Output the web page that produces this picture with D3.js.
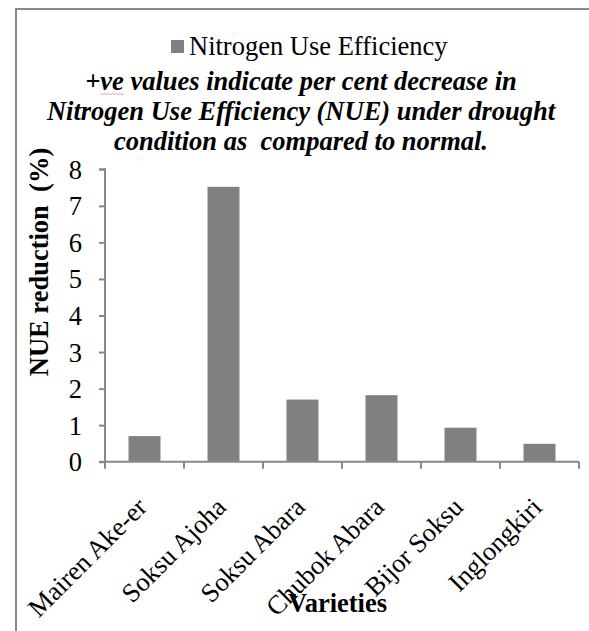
<!DOCTYPE html>
<html>
<head>
<meta charset="utf-8">
<script src="https://cdn.jsdelivr.net/npm/d3@7"></script>
<style>
  html, body { margin: 0; padding: 0; background: #fff; }
  svg { display: block; }
</style>
</head>
<body>
<svg id="chart" width="589" height="631"></svg>
<script>
// ---- data ----
const categories = ["Mairen Ake-er", "Soksu Ajoha", "Soksu Abara", "Chubok Abara", "Bijor Soksu", "Inglongkiri"];
const nueReduction = [0.70, 7.52, 1.70, 1.82, 0.93, 0.49];
const yTicks = [0, 1, 2, 3, 4, 5, 6, 7, 8];
const seriesName = "Nitrogen Use Efficiency";
const titleLines = [
  "+ve values indicate per cent decrease in",
  "Nitrogen Use Efficiency (NUE) under drought",
  "condition as  compared to normal."
];
const yAxisTitle = "NUE reduction  (%)";
const xAxisTitle = "Varieties";

// ---- layout ----
const FONT = '"Liberation Serif"';
const svg = d3.select("#chart");
const plot = { left: 105, right: 579, top: 169.3, bottom: 461.7 };
const axisColor = "#898989";
const barColor = "#808080";
const fs = 26.5;

// outer frame (only left & top visible in the reference)
svg.append("rect")
  .attr("x", 16).attr("y", 9)
  .attr("width", 700).attr("height", 800)
  .attr("fill", "none").attr("stroke", axisColor).attr("stroke-width", 2);

// scales
const y = d3.scaleLinear().domain([0, 8]).range([plot.bottom, plot.top]);
const xBound = d3.scaleBand().domain(categories).range([plot.left, plot.right]).padding(0);
const x = d3.scaleBand().domain(categories).range([plot.left, plot.right])
  .paddingInner(0.595).paddingOuter(0.2975);

// bars
svg.append("g").selectAll("rect")
  .data(categories)
  .join("rect")
  .attr("x", d => x(d))
  .attr("width", x.bandwidth())
  .attr("y", (d, i) => y(nueReduction[i]))
  .attr("height", (d, i) => y(0) - y(nueReduction[i]))
  .attr("fill", barColor);

// y axis
const yAxis = d3.axisLeft(y).tickValues(yTicks).tickFormat(d3.format("d")).tickSize(6).tickPadding(17);
const gy = svg.append("g").attr("transform", `translate(${plot.left},0)`).call(yAxis);
gy.select(".domain").attr("stroke", axisColor).attr("stroke-width", 2)
  .attr("d", `M-6,${plot.top}H0V${plot.bottom}`);
gy.selectAll(".tick line").attr("stroke", axisColor).attr("stroke-width", 2);
gy.selectAll(".tick text")
  .style("font-family", FONT)
  .style("font-size", fs + "px").attr("fill", "#000").attr("dy", "0.34em");

// x axis: line with ticks at category boundaries
const gx = svg.append("g");
gx.append("line")
  .attr("x1", plot.left - 6).attr("x2", plot.right)
  .attr("y1", plot.bottom).attr("y2", plot.bottom)
  .attr("stroke", axisColor).attr("stroke-width", 2);
const bounds = categories.map(c => xBound(c)).concat([plot.right]);
gx.selectAll("line.tk").data(bounds).join("line").attr("class", "tk")
  .attr("x1", d => d).attr("x2", d => d)
  .attr("y1", plot.bottom).attr("y2", plot.bottom + 7)
  .attr("stroke", axisColor).attr("stroke-width", 2);

// x tick labels rotated -45
gx.selectAll("text.cat").data(categories).join("text").attr("class", "cat")
  .attr("text-anchor", "end")
  .style("font-family", FONT).style("font-size", fs + "px")
  .attr("transform", d => {
    const cx = xBound(d) + xBound.bandwidth() / 2 + 4;
    return `translate(${cx},${plot.bottom + 47}) rotate(-45)`;
  })
  .text(d => d);

// axis titles
svg.append("text")
  .attr("transform", "translate(47.5,262) rotate(-90)")
  .attr("text-anchor", "middle")
  .style("font-family", FONT).style("font-size", fs + "px").style("font-weight", "bold")
  .style("white-space", "pre")
  .text(yAxisTitle);

svg.append("text")
  .attr("x", 337.5).attr("y", 611.5)
  .attr("text-anchor", "middle")
  .style("font-family", FONT).style("font-size", fs + "px").style("font-weight", "bold")
  .text(xAxisTitle);

// legend
svg.append("rect").attr("x", 171).attr("y", 40).attr("width", 13).attr("height", 13).attr("fill", barColor);
svg.append("text").attr("x", 189).attr("y", 55)
  .style("font-family", FONT).style("font-size", fs + "px")
  .text(seriesName);

// title (bold italic)
const tg = svg.append("g");
const titleTexts = tg.selectAll("text").data(titleLines).join("text")
  .attr("x", 301).attr("y", (d, i) => 89.5 + i * 30)
  .attr("text-anchor", "middle")
  .style("font-family", FONT).style("font-size", fs + "px")
  .style("font-weight", "bold").style("font-style", "italic")
  .style("white-space", "pre")
  .text(d => d);

// faint spell-check squiggle under "ve" as in the reference
const t0 = titleTexts.node();
try {
  const a = t0.getStartPositionOfChar(1).x;
  const b = t0.getEndPositionOfChar(2).x;
  const yy = 89.5 + 4;
  let dpath = `M${a},${yy}`;
  for (let xx = a, k = 0; xx < b; xx += 2, k++) dpath += `L${Math.min(xx + 2, b)},${yy + (k % 2 ? 0 : 1.2)}`;
  tg.append("path").attr("d", dpath).attr("fill", "none").attr("stroke", "#f0a0a0").attr("stroke-width", 1);
} catch (e) {}
</script>
</body>
</html>
